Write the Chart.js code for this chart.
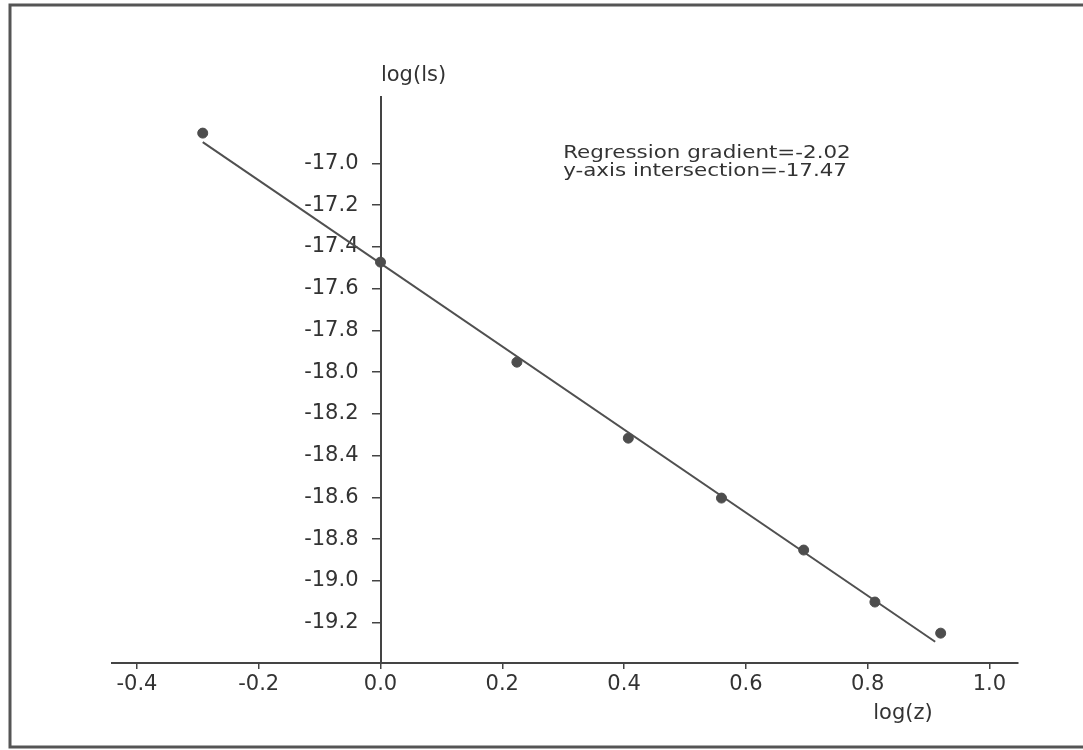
<!DOCTYPE html>
<html>
<head>
<meta charset="utf-8">
<script src="https://cdn.jsdelivr.net/npm/chart.js@4.4.1/dist/chart.umd.min.js"></script>
<style>
  html, body { margin: 0; padding: 0; background: #ffffff; }
  #wrap { width: 1083px; height: 750px; position: relative; }
</style>
</head>
<body>
<div id="wrap"><canvas id="c"></canvas></div>
<script>
// ---- data ----
const logZ  = [-0.292, 0.0, 0.224, 0.407, 0.560, 0.695, 0.812, 0.920];
const logIs = [-16.855, -17.473, -17.952, -18.316, -18.603, -18.852, -19.101, -19.250];
const fitX  = [-0.292, 0.911];
const fitY  = [-16.898, -19.291];
const xTickValues = [-0.4, -0.2, 0.0, 0.2, 0.4, 0.6, 0.8, 1.0];
const yTickValues = [-17.0, -17.2, -17.4, -17.6, -17.8, -18.0, -18.2, -18.4, -18.6, -18.8, -19.0, -19.2];
const xRange = [-0.441, 1.047];
const yRange = [-19.393, -16.682];
const xTitle = 'log(z)';
const yTitle = 'log(ls)';
const noteLines = ['Regression gradient=-2.02', 'y-axis intersection=-17.47'];

const INK = '#333333';
const FONT = '"DejaVu Sans", "Liberation Sans", Arial, sans-serif';

// linear scale that, when crossing the other axis, keeps its tick labels clear of the tick marks
class CrossLinearScale extends Chart.LinearScale {
  _computeLabelItems(chartArea) {
    const items = super._computeLabelItems(chartArea);
    const shift = this.options.grid.tickLength + this.options.ticks.padding;
    items.forEach(it => { it.options.translation[0] -= shift; });
    return items;
  }
}
CrossLinearScale.id = 'crosslinear';
CrossLinearScale.defaults = Chart.LinearScale.defaults;
Chart.register(CrossLinearScale);

const textPlugin = {
  id: 'texts',
  beforeDraw(chart) {
    const ctx = chart.ctx;
    ctx.save();
    ctx.strokeStyle = '#555';
    ctx.lineWidth = 3;
    ctx.strokeRect(10, 5, 1090, 742);
    ctx.restore();
  },
  afterDraw(chart) {
    const ctx = chart.ctx;
    const xs = chart.scales.x, ys = chart.scales.y;
    const x0 = xs.getPixelForValue(0);
    ctx.save();
    ctx.fillStyle = INK;
    ctx.font = '21px ' + FONT;
    ctx.textAlign = 'center';
    ctx.textBaseline = 'middle';
    ctx.fillText(yTitle, x0 + 33, chart.chartArea.top - 21);
    ctx.fillText(xTitle, 903, chart.chartArea.bottom + 51);
    // regression note
    ctx.font = '18px ' + FONT;
    ctx.textAlign = 'left';
    const nx = xs.getPixelForValue(0.3);
    const ny = ys.getPixelForValue(-16.951);
    noteLines.forEach((t, i) => {
      ctx.save();
      ctx.translate(nx, ny + i * 18);
      ctx.scale(1.19, 1);
      ctx.fillText(t, 0, 0);
      ctx.restore();
    });
    ctx.restore();
  }
};

new Chart(document.getElementById('c'), {
  type: 'scatter',
  data: {
    datasets: [
      {
        label: 'measured',
        data: logZ.map((v, i) => ({ x: v, y: logIs[i] })),
        pointStyle: 'circle',
        pointRadius: 5,
        pointBackgroundColor: '#4d4d4d',
        pointBorderColor: '#4d4d4d',
        pointBorderWidth: 1,
        showLine: false,
        order: 1
      },
      {
        label: 'regression',
        data: fitX.map((v, i) => ({ x: v, y: fitY[i] })),
        showLine: true,
        pointRadius: 0,
        borderColor: '#505050',
        borderWidth: 2,
        fill: false,
        order: 2
      }
    ]
  },
  options: {
    responsive: true,
    maintainAspectRatio: false,
    animation: false,
    layout: { padding: { left: 112, right: 65, top: 97, bottom: 47 } },
    plugins: { legend: { display: false }, tooltip: { enabled: false } },
    scales: {
      x: {
        type: 'linear',
        position: 'bottom',
        min: xRange[0],
        max: xRange[1],
        afterBuildTicks: s => { s.ticks = xTickValues.map(v => ({ value: v })); },
        afterFit: s => { s.height = 40; s.paddingLeft = 0; s.paddingRight = 0; },
        ticks: {
          callback: v => Number(v).toFixed(1),
          color: INK,
          font: { family: FONT, size: 21 },
          padding: 3,
          maxRotation: 0,
          autoSkip: false
        },
        grid: { display: true, drawOnChartArea: false, drawTicks: true, tickLength: 6, color: '#444', lineWidth: 1.5 },
        border: { display: true, color: '#444', width: 2 }
      },
      y: {
        type: 'crosslinear',
        position: { x: 0 },
        min: yRange[0],
        max: yRange[1],
        afterBuildTicks: s => { s.ticks = yTickValues.map(v => ({ value: v })); },
        afterFit: s => { s.paddingTop = 0; s.paddingBottom = 0; },
        ticks: {
          callback: v => Number(v).toFixed(1),
          color: INK,
          font: { family: FONT, size: 21 },
          padding: 14,
          autoSkip: false
        },
        grid: { display: true, drawOnChartArea: false, drawTicks: true, tickLength: 8, color: '#444', lineWidth: 1.5 },
        border: { display: true, color: '#444', width: 2 }
      }
    }
  },
  plugins: [textPlugin]
});
</script>
</body>
</html>
